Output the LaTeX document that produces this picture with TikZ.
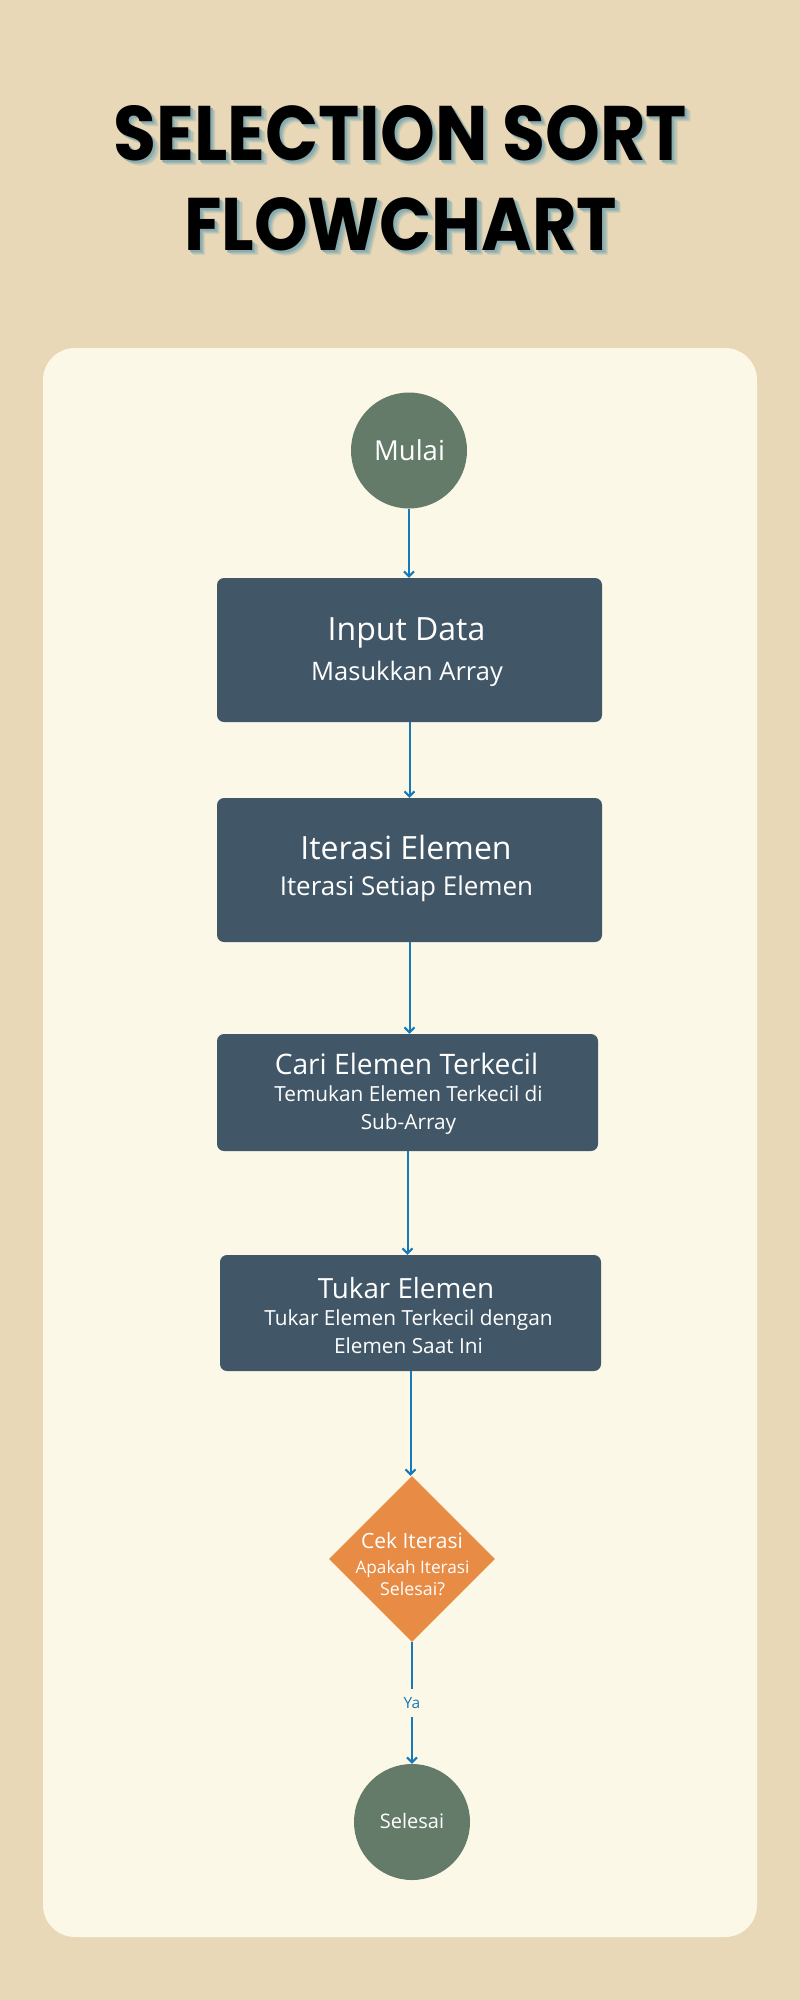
\documentclass[tikz,border=0pt]{standalone}
\usepackage{graphicx}
\usepackage{fontspec}
\setmainfont{Open Sans}
\newfontfamily\titlefont{Poppins}
\usetikzlibrary{shapes.geometric,arrows.meta}
\definecolor{bgc}{RGB}{232,216,183}
\definecolor{panelc}{RGB}{252,248,232}
\definecolor{circc}{RGB}{100,123,106}
\definecolor{boxc}{RGB}{65,87,103}
\definecolor{diac}{RGB}{232,139,69}
\definecolor{arrc}{RGB}{22,122,186}
\definecolor{shA}{RGB}{205,204,181}
\definecolor{shB}{RGB}{185,195,179}
\definecolor{shC}{RGB}{160,183,177}
\definecolor{shD}{RGB}{136,172,175}
\newcommand{\fsz}[1]{\fontsize{#1}{#1}\selectfont}
\newcommand{\glowtext}[1]{%
  \rlap{\hspace{5.5pt}\raisebox{-5pt}{\color{shA}#1}}%
  \rlap{\hspace{4.5pt}\raisebox{-4pt}{\color{shB}#1}}%
  \rlap{\hspace{3.2pt}\raisebox{-3pt}{\color{shC}#1}}%
  \rlap{\hspace{2pt}\raisebox{-2pt}{\color{shD}#1}}%
  #1}
\newcommand{\titleA}{\resizebox{573pt}{55pt}{\titlefont\bfseries SELECTION SORT}}
\newcommand{\titleB}{\resizebox{433pt}{53pt}{\titlefont\bfseries FLOWCHART}}
\begin{document}
\begin{tikzpicture}[x=1pt,y=-1pt,
  termnode/.style={circle, fill=circc, minimum size=116pt, inner sep=0pt},
  procbox/.style={rectangle, rounded corners=7pt, fill=boxc, inner sep=0pt},
  decnode/.style={diamond, aspect=1, fill=diac, minimum width=166pt, minimum height=166pt, inner sep=0pt},
  wtext/.style={text=white, inner sep=0pt, anchor=base},
  flow/.style={draw=arrc, line width=2pt, -{Straight Barb[length=5pt,width=10pt,line width=2pt]}},
  ttl/.style={inner sep=0pt, anchor=base west}
]
\useasboundingbox (0,0) rectangle (800,2000);
\fill[bgc] (0,0) rectangle (800,2000);
\fill[panelc, rounded corners=32pt] (43,348) rectangle (757,1937);

% title with soft teal glow
\node[ttl] (titleA) at (113.5,160) {\glowtext{\titleA}};
\node[ttl] (titleB) at (184,250) {\glowtext{\titleB}};

% shapes
\node[termnode] (start) at (409,450.5) {};
\node[procbox, minimum width=385pt, minimum height=144pt] (b1) at (409.5,650) {};
\node[procbox, minimum width=385pt, minimum height=144pt] (b2) at (409.5,870) {};
\node[procbox, minimum width=381pt, minimum height=117pt] (b3) at (407.5,1092.5) {};
\node[procbox, minimum width=381pt, minimum height=116pt] (b4) at (410.5,1313) {};
\node[decnode] (dec) at (412,1559) {};
\node[termnode] (stop) at (412,1822) {};

% texts
\node[wtext] (tStart) at (409.5,460.5) {\fsz{27.5}Mulai};
\node[wtext] (t1a) at (406.5,640) {\fsz{32}Input Data};
\node[wtext] (t1b) at (407,680) {\fsz{25.5}Masukkan Array};
\node[wtext] (t2a) at (406,859) {\fsz{32}Iterasi Elemen};
\node[wtext] (t2b) at (406.5,895) {\fsz{26}Iterasi Setiap Elemen};
\node[wtext] (t3a) at (406.5,1074) {\fsz{28.2}Cari Elemen Terkecil};
\node[wtext] (t3b) at (408.5,1101) {\fsz{20.8}Temukan Elemen Terkecil di};
\node[wtext] (t3c) at (408.5,1129) {\fsz{20.8}Sub-Array};
\node[wtext] (t4a) at (406,1298) {\fsz{27.8}Tukar Elemen};
\node[wtext] (t4b) at (408.5,1325) {\fsz{20.8}Tukar Elemen Terkecil dengan};
\node[wtext] (t4c) at (408.5,1353) {\fsz{20.8}Elemen Saat Ini};
\node[wtext] (tDa) at (412,1548) {\fsz{21}Cek Iterasi};
\node[wtext] (tDb) at (412.5,1573) {\fsz{17.2}Apakah Iterasi};
\node[wtext] (tDc) at (412.5,1595) {\fsz{17.8}Selesai?};
\node[wtext] (tStop) at (412,1828) {\fsz{20}Selesai};

% connectors
\draw[flow] (start.south) -- (start.south |- b1.north);
\draw[flow] (b1.south) -- (b1.south |- b2.north);
\draw[flow] (b2.south) -- (b2.south |- b3.north);
\draw[flow] (b3.south) -- (b3.south |- b4.north);
\draw[flow] (b4.south) -- (b4.south |- dec.north);
\draw[flow] (dec.south) -- node[fill=panelc, text=arrc, inner sep=1pt, minimum height=28pt] (ya) {\fsz{15.5}Ya} (stop.north);
\end{tikzpicture}
\end{document}
